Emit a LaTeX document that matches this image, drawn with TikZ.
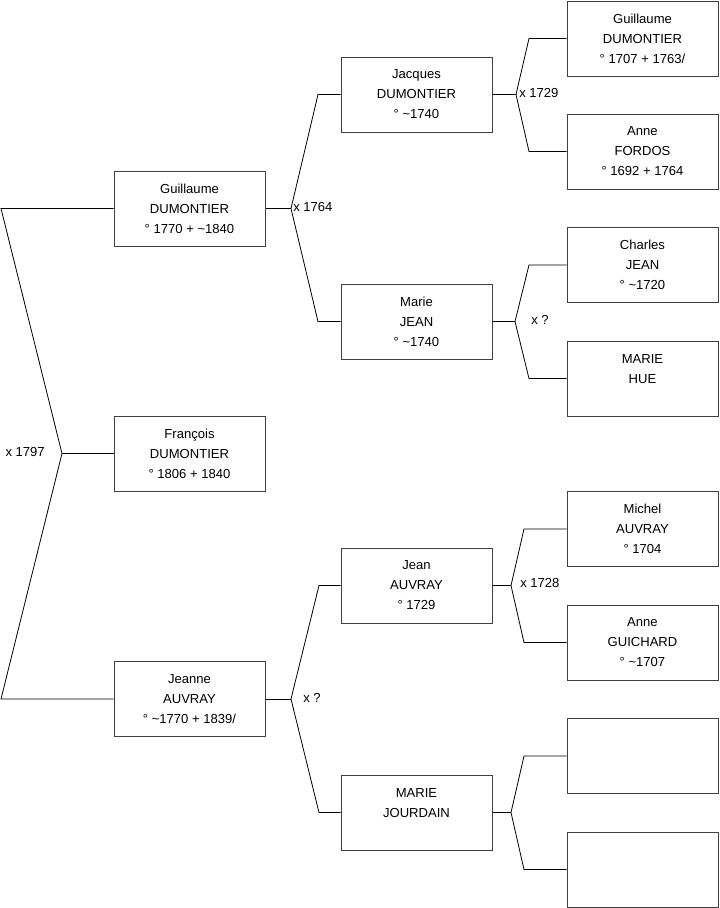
\documentclass[tikz,border=0pt]{standalone}
\usepackage{fontspec}
\setmainfont{Liberation Sans}
\tikzset{
  person/.style={rectangle, draw=black!75, line width=0.75pt, minimum width=113.25pt, minimum height=56.25pt,
    inner sep=0pt, align=center, font=\fontsize{9.8}{15}\selectfont},
  emptybox/.style={rectangle, draw=black!75, line width=0.75pt, minimum width=113.25pt, minimum height=56.25pt, inner sep=0pt},
  link/.style={black, line width=0.6pt},
  marriage/.style={font=\fontsize{9.8}{11}\selectfont, inner sep=0pt}
}

\begin{document}
\begin{tikzpicture}[x=0.75pt, y=-0.75pt]
  \useasboundingbox (0,0) rectangle (719,908);

  % generation 1 and 2
  \node[person] (francois) at (189.5,453.5) {François\\DUMONTIER\\° 1806 + 1840};
  \node[person] (guillaume) at (189.5,208.5) {Guillaume\\DUMONTIER\\° 1770 + \textasciitilde1840};
  \node[person] (jeanne) at (189.5,699) {Jeanne\\AUVRAY\\° \textasciitilde1770 + 1839/};

  % generation 3
  \node[person] (jacques) at (416.5,94.5) {Jacques\\DUMONTIER\\° \textasciitilde1740};
  \node[person] (marie) at (416.5,321.5) {Marie\\JEAN\\° \textasciitilde1740};
  \node[person] (jean) at (416.5,585.5) {Jean\\AUVRAY\\° 1729};
  \node[person] (jourdain) at (416.5,812.5) {MARIE\\JOURDAIN\\~};

  % generation 4
  \node[person] (guillaumeb) at (642.5,38.5) {Guillaume\\DUMONTIER\\° 1707 + 1763/};
  \node[person] (anne) at (642.5,151.5) {Anne\\FORDOS\\° 1692 + 1764};
  \node[person] (charles) at (642.5,265) {Charles\\JEAN\\° \textasciitilde1720};
  \node[person] (hue) at (642.5,378.5) {MARIE\\HUE\\~};
  \node[person] (michel) at (642.5,529) {Michel\\AUVRAY\\° 1704};
  \node[person] (guichard) at (642.5,642.5) {Anne\\GUICHARD\\° \textasciitilde1707};
  \node[emptybox] (unknowna) at (642.5,756) {};
  \node[emptybox] (unknownb) at (642.5,869.5) {};

  % forks
  \coordinate (v0) at (62,453.5);
  \coordinate (v0a) at (1,208.5);
  \coordinate (v0b) at (1,699);
  \coordinate (vg) at (291,208.5);
  \coordinate (vga) at (318,94.5);
  \coordinate (vgb) at (318,321.5);
  \coordinate (vj) at (291,699);
  \coordinate (vja) at (319,585.5);
  \coordinate (vjb) at (319,812.5);
  \coordinate (va) at (516,94.5);
  \coordinate (vaa) at (529,38.5);
  \coordinate (vab) at (529,151.5);
  \coordinate (vb) at (515,321.5);
  \coordinate (vba) at (529,265);
  \coordinate (vbb) at (529,378.5);
  \coordinate (vc) at (511,585.5);
  \coordinate (vca) at (524,529);
  \coordinate (vcb) at (524,642.5);
  \coordinate (vd) at (511,812.5);
  \coordinate (vda) at (524,756);
  \coordinate (vdb) at (524,869.5);

  \draw[link] (francois) -- (v0);
  \draw[link] (guillaume) -- (v0a) -- (v0) -- (v0b) -- (jeanne);
  \draw[link] (guillaume) -- (vg);
  \draw[link] (jacques) -- (vga) -- (vg) -- (vgb) -- (marie);
  \draw[link] (jeanne) -- (vj);
  \draw[link] (jean) -- (vja) -- (vj) -- (vjb) -- (jourdain);
  \draw[link] (jacques) -- (va);
  \draw[link] (guillaumeb) -- (vaa) -- (va) -- (vab) -- (anne);
  \draw[link] (marie) -- (vb);
  \draw[link] (charles) -- (vba) -- (vb) -- (vbb) -- (hue);
  \draw[link] (jean) -- (vc);
  \draw[link] (michel) -- (vca) -- (vc) -- (vcb) -- (guichard);
  \draw[link] (jourdain) -- (vd);
  \draw[link] (unknowna) -- (vda) -- (vd) -- (vdb) -- (unknownb);

  % marriages
  \node[marriage, anchor=east] (m0) at (45,452) {x 1797};
  \node[marriage, anchor=west] (mg) at (293,207) {x 1764};
  \node[marriage, anchor=west] (mj) at (303,698) {x ?};
  \node[marriage, anchor=west] (ma) at (519,93) {x 1729};
  \node[marriage, anchor=west] (mb) at (531,320) {x ?};
  \node[marriage, anchor=west] (mc) at (520,583) {x 1728};
\end{tikzpicture}
\end{document}
